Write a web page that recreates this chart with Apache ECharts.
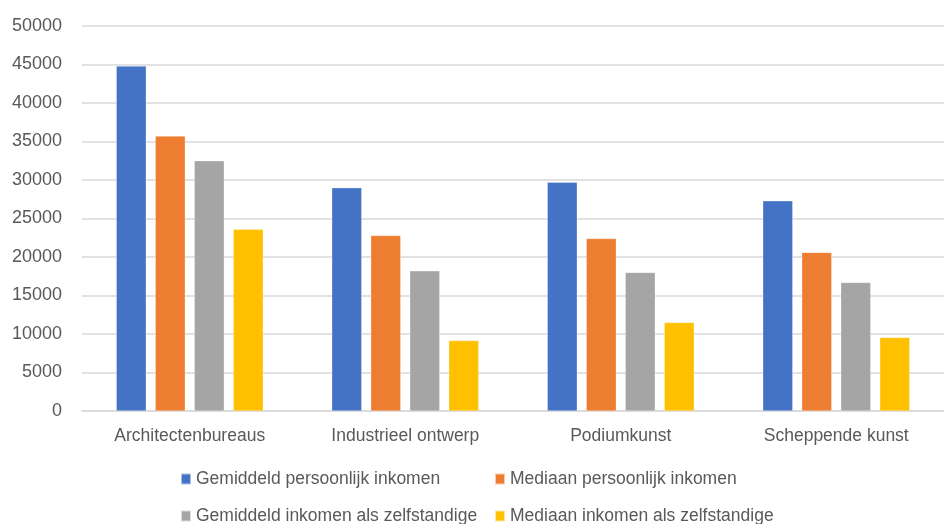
<!DOCTYPE html>
<html><head><meta charset="utf-8">
<script src="https://cdn.jsdelivr.net/npm/echarts@6/dist/echarts.min.js"></script>
<style>html,body{margin:0;padding:0;background:#fff}#c{width:944px;height:524px}</style>
</head><body><div id="c"></div>
<script>
const categories = ['Architectenbureaus', 'Industrieel ontwerp', 'Podiumkunst', 'Scheppende kunst'];
const seriesNames = ['Gemiddeld persoonlijk inkomen', 'Mediaan persoonlijk inkomen', 'Gemiddeld inkomen als zelfstandige', 'Mediaan inkomen als zelfstandige'];
const gemiddeldPersoonlijk = [44800, 29000, 29700, 27300];
const mediaanPersoonlijk = [35700, 22800, 22400, 20600];
const gemiddeldZelfstandige = [32500, 18200, 18000, 16700];
const mediaanZelfstandige = [23600, 9150, 11500, 9550];
const colors = ['#4472C4', '#ED7D31', '#A5A5A5', '#FFC000'];
const values = [gemiddeldPersoonlijk, mediaanPersoonlijk, gemiddeldZelfstandige, mediaanZelfstandige];

const font = "'Liberation Sans', Arial, sans-serif";
const legendPos = [[180, 470], [494, 470], [180, 507], [494, 507]];
const chart = echarts.init(document.getElementById('c'));
chart.setOption({
  animation: false,
  color: colors,
  grid: { left: 82, top: 26, width: 871, bottom: 113, containLabel: false },
  xAxis: {
    type: 'category', data: categories,
    axisTick: { show: false },
    axisLine: { lineStyle: { color: '#d9d9d9', width: 1.5 } },
    axisLabel: { color: '#595959', fontSize: 17.5, fontFamily: font, margin: 16 }
  },
  yAxis: {
    type: 'value', min: 0, max: 50000, interval: 5000,
    axisLine: { show: false }, axisTick: { show: false },
    splitLine: { lineStyle: { color: '#d9d9d9', width: 1.5 } },
    axisLabel: { color: '#595959', fontSize: 18, fontFamily: font, margin: 20,
      formatter: v => String(v) }
  },
  legend: seriesNames.map((n, i) => ({
    orient: 'horizontal', left: legendPos[i][0], top: legendPos[i][1],
    itemWidth: 10, itemHeight: 11, itemGap: 0, data: [n], icon: 'rect', padding: 0,
    textStyle: { color: '#595959', fontSize: 17.5, lineHeight: 18, fontFamily: font }
  })),
  series: seriesNames.map((n, i) => ({
    name: n, type: 'bar', data: values[i], barWidth: 30, barGap: '30%',
    itemStyle: { color: colors[i], borderColor: 'rgba(255,255,255,0.6)', borderWidth: 0.5 }
  }))
});
</script></body></html>
